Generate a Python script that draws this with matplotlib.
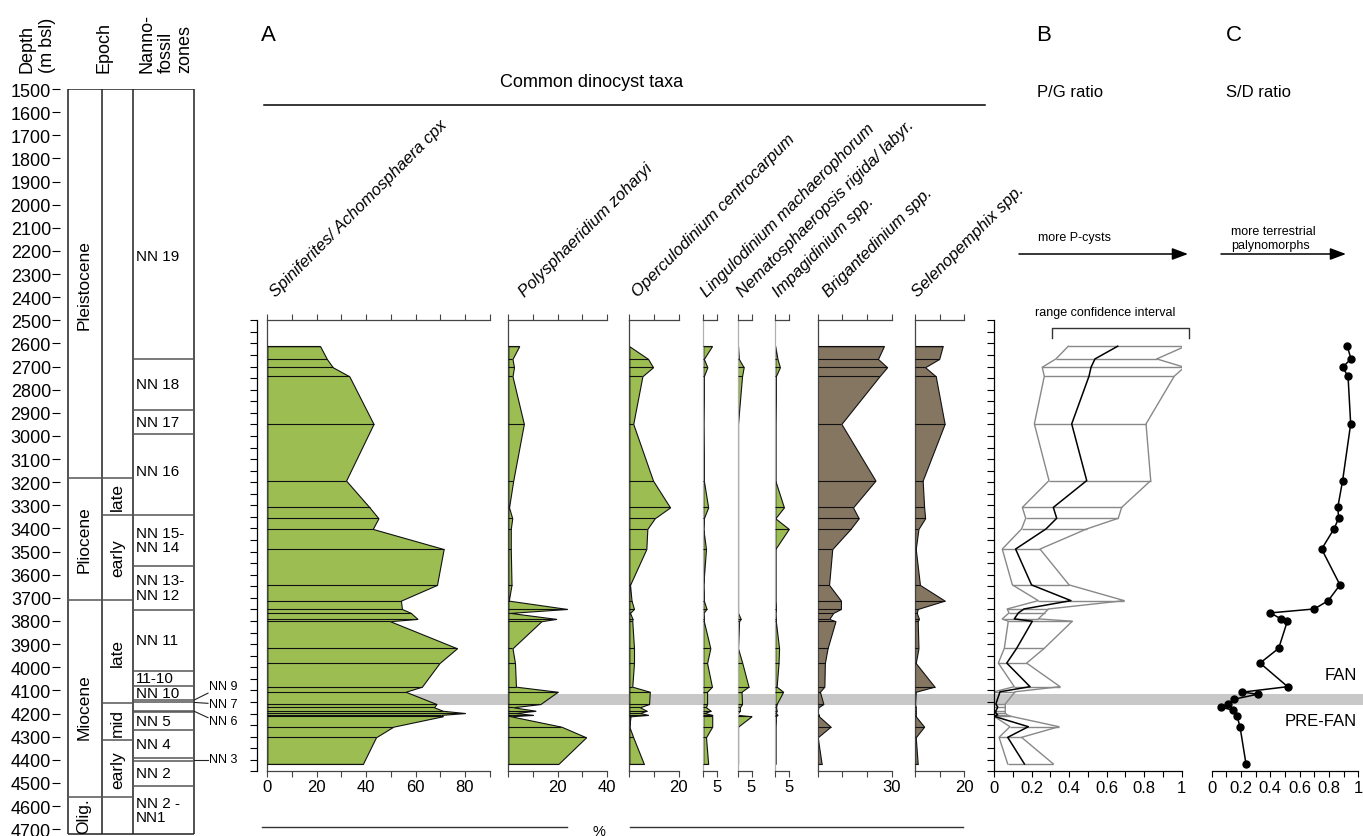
import numpy as np
import matplotlib
matplotlib.use("Agg")
import matplotlib.pyplot as plt

plt.rcParams['font.family'] = ['Liberation Sans', 'DejaVu Sans']

# ---------------- data ----------------
# sample depths (m bsl)
depth = [2612, 2667, 2703, 2742, 2948, 3193, 3309, 3356, 3402, 3489,
         3644, 3712, 3748, 3765, 3791, 3801, 3918, 3982, 4084, 4106,
         4159, 4173, 4188, 4198, 4206, 4212, 4257, 4303, 4418]

# relative abundances (%)
spiniferites = [21.4, 24.1, 26.5, 33.2, 43.0, 31.9, 41.4, 45.0, 42.7, 71.4,
                68.7, 54.1, 54.5, 58.1, 60.8, 49.7, 76.8, 69.7, 62.6, 56.0,
                68.5, 67.5, 71.0, 80.0, 70.5, 71.0, 51.0, 44.0, 38.7]
polysphaeridium = [4.4, 1.7, 2.3, 1.7, 6.3, 2.0, 0.3, 1.6, 1.0, 1.0,
                   1.3, 0.2, 23.8, 0.7, 19.4, 13.4, 1.7, 2.7, 3.1, 20.0,
                   13.0, 2.0, 11.0, 3.0, 10.0, 1.0, 21.5, 31.5, 20.3]
operculodinium = [0.0, 7.6, 9.6, 5.3, 1.6, 9.6, 16.5, 10.3, 7.3, 6.9,
                  0.3, 0.9, 1.9, 0.3, 1.3, 1.2, 1.9, 1.9, 1.2, 8.3,
                  8.0, 4.3, 7.0, 4.3, 7.6, 0.5, 0.0, 1.6, 5.9]
lingulodinium = [3.2, 0.2, 1.5, 0.2, 0.0, 0.2, 1.8, 0.2, 0.0, 1.0,
                 0.0, 0.2, 1.2, 0.0, 0.2, 0.2, 2.6, 1.4, 3.2, 1.4,
                 1.4, 1.0, 2.7, 0.5, 3.3, 3.3, 3.3, 1.0, 1.8]
nematosphaeropsis = [0.0, 0.3, 2.1, 1.5, 0.0, 0.0, 0.0, 0.0, 0.0, 0.0,
                     0.0, 0.0, 0.0, 0.0, 1.0, 0.4, 0.0, 1.6, 3.9, 1.3,
                     1.5, 0.7, 0.7, 0.0, 0.0, 5.0, 0.0, 0.0, 0.0]
impagidinium = [0.0, 0.8, 1.7, 0.2, 0.0, 0.0, 3.2, 0.0, 5.0, 0.0,
                0.0, 0.0, 0.2, 0.0, 0.1, 0.2, 1.4, 1.2, 0.5, 2.9,
                0.5, 0.3, 0.5, 0.2, 0.8, 0.2, 0.0, 0.0, 0.0]
brigantedinium = [26.8, 24.4, 28.1, 25.0, 9.6, 23.4, 14.3, 16.6, 13.3, 5.9,
                  4.6, 9.4, 9.4, 6.3, 4.7, 7.2, 4.0, 2.9, 2.7, 0.9,
                  2.3, 0.3, 0.0, 0.0, 0.5, 0.5, 5.2, 0.0, 1.6]
selenopemphix = [11.2, 9.8, 4.1, 8.4, 12.0, 3.1, 3.7, 4.1, 1.4, 0.3,
                 2.0, 12.0, 1.1, 0.7, 1.6, 1.1, 1.4, 0.3, 7.9, 0.3,
                 0.0, 0.3, 0.3, 0.3, 0.3, 0.3, 3.7, 0.3, 1.1]

taxa_names = ['Spiniferites/ Achomosphaera cpx', 'Polysphaeridium zoharyi',
              'Operculodinium centrocarpum', 'Lingulodinium machaerophorum',
              'Nematosphaeropsis rigida/ labyr.', 'Impagidinium spp.',
              'Brigantedinium spp.', 'Selenopemphix spp.']
taxa_values = [spiniferites, polysphaeridium, operculodinium, lingulodinium,
               nematosphaeropsis, impagidinium, brigantedinium, selenopemphix]
taxa_max = [90, 40, 20, 5, 5, 5, 30, 20]
taxa_ticks = [list(range(0, 91, 10)), [0, 10, 20, 30, 40], [0, 10, 20],
              [0, 5], [0, 5], [0, 5], [0, 10, 20, 30], [0, 10, 20]]
taxa_ticklabels = [['0', '', '20', '', '40', '', '60', '', '80', ''],
                   ['', '', '20', '', '40'], ['', '', '20'],
                   ['', '5'], ['', '5'], ['', '5'],
                   ['', '', '', '30'], ['', '', '20']]
# fill colour: G = gonyaulacoid (green), P = protoperidinioid (brown)
taxa_group = ['G', 'G', 'G', 'G', 'G', 'G', 'P', 'P']

# P/G ratio with confidence interval
pg_low = [0.396, 0.33, 0.257, 0.268, 0.215, 0.293, 0.151, 0.169, 0.147, 0.044,
          0.098, 0.236, 0.07, 0.08, 0.044, 0.076, 0.055, 0.023, 0.108, 0.0,
          0.0, 0.0, 0.0, 0.0, 0.0, 0.0, 0.085, 0.027, 0.073]
pg_mean = [0.659, 0.538, 0.517, 0.506, 0.414, 0.494, 0.316, 0.334, 0.277, 0.115,
           0.20, 0.41, 0.16, 0.13, 0.108, 0.204, 0.121, 0.068, 0.192, 0.032,
           0.01, 0.02, 0.01, 0.01, 0.02, 0.0, 0.183, 0.073, 0.162]
pg_up = [1.02, 0.867, 1.014, 0.96, 0.81, 0.835, 0.68, 0.662, 0.494, 0.245,
         0.40, 0.694, 0.29, 0.27, 0.236, 0.417, 0.268, 0.174, 0.352, 0.112,
         0.06, 0.06, 0.06, 0.06, 0.07, 0.09, 0.346, 0.147, 0.316]

# S/D ratio
sd_depth = [2612, 2667, 2703, 2742, 2948, 3193, 3309, 3356, 3402, 3489,
            3644, 3712, 3748, 3765, 3791, 3801, 3918, 3982, 4084, 4108,
            4116, 4138, 4158, 4172, 4186, 4212, 4257, 4418]
sd_ratio = [0.925, 0.95, 0.893, 0.93, 0.948, 0.893, 0.86, 0.866, 0.834, 0.75,
            0.875, 0.795, 0.70, 0.40, 0.473, 0.516, 0.457, 0.33, 0.518, 0.205,
            0.318, 0.154, 0.113, 0.061, 0.147, 0.173, 0.193, 0.234]

# stratigraphy
epoch_names = ['Pleistocene', 'Pliocene', 'Miocene', 'Olig.']
epoch_tops = [1500, 3183, 3708, 4562]
epoch_bases = [3183, 3708, 4562, 4720]
subepoch_names = ['late', 'early', 'late', 'mid', 'early']
subepoch_tops = [3183, 3340, 3708, 4156, 4315]
subepoch_bases = [3340, 3708, 4156, 4315, 4562]
nn_bounds = [2667, 2886, 2992, 3340, 3561, 3751, 4015, 4080, 4142, 4149,
             4188, 4195, 4271, 4394, 4404, 4515]
nn_labels = ['NN 19', 'NN 18', 'NN 17', 'NN 16', 'NN 15-\nNN 14', 'NN 13-\nNN 12',
             'NN 11', '11-10', 'NN 10', 'NN 5', 'NN 4', 'NN 2', 'NN 2 -\nNN1']
nn_label_depth = [2220, 2776, 2939, 3150, 3450, 3656, 3883, 4047, 4111, 4233,
                  4330, 4458, 4617]
nn_side_labels = ['NN 9', 'NN 7', 'NN 6', 'NN 3']
nn_side_from = [4142, 4152, 4190, 4399]
nn_side_to = [4112, 4156, 4218, 4399]
nn_side_text = [4082, 4158, 4232, 4397]

fan_top, fan_base = 4115, 4162

# ---------------- layout helpers ----------------
W, H = 1363, 837
TOP_PX, PX_PER_M = 90.0, 0.2313
D_TOP, D_BOT = 2500, 4450
GREEN, BROWN = '#9bbd52', '#857662'


def ypx(d):
    return TOP_PX + (d - 1500) * PX_PER_M


fig = plt.figure(figsize=(W / 100, H / 100), dpi=100)


def add_ax(x0, x1, y0, y1):
    ax = fig.add_axes([x0 / W, 1 - y1 / H, (x1 - x0) / W, (y1 - y0) / H])
    ax.set_facecolor('none')
    return ax


# FAN / PRE-FAN boundary band
band = add_ax(268, W, ypx(D_TOP), ypx(D_BOT))
band.set_zorder(-1)
band.set_ylim(D_BOT, D_TOP)
band.axhspan(fan_top, fan_base, color='#c8c8c8', lw=0)
band.axis('off')

# ---------------- stratigraphic column ----------------
col_bot = 1500 + (H - TOP_PX) / PX_PER_M
ax_s = add_ax(0, 250, TOP_PX, H)
ax_s.set_xlim(0, 250)
ax_s.set_ylim(col_bot, 1500)
for sp in ax_s.spines.values():
    sp.set_visible(False)
ax_s.spines['left'].set_position(('data', 60))
ax_s.set_xticks([])
ax_s.set_yticks(range(1500, 4701, 100))
ax_s.tick_params(axis='y', length=6, width=0.8, direction='out', labelsize=13, pad=0.5)

X_L, X_E, X_S, X_R = 68, 102, 133, 194
ax_s.vlines([X_L, X_E, X_S, X_R], 1500, 4720, color='#222222', lw=1.1)
ax_s.hlines([1500, 4720], X_L, X_R, color='#222222', lw=1.1)
ax_s.hlines(epoch_tops[1:], X_L, X_E, color='#555555', lw=1.1)
ax_s.hlines(subepoch_tops + [subepoch_bases[-1]], X_E, X_S, color='#555555', lw=1.1)
ax_s.hlines(nn_bounds, X_S, X_R, color='#555555', lw=1.1)

for name, t, b in zip(epoch_names, epoch_tops, epoch_bases):
    yc = (t + b) / 2 if name != 'Miocene' else 4170
    ax_s.text(84, yc, name, rotation=90, ha='center', va='center', fontsize=12.5)
for name, t, b in zip(subepoch_names, subepoch_tops, subepoch_bases):
    ax_s.text(117.5, (t + b) / 2, name, rotation=90, ha='center', va='center', fontsize=12.5)
for name, d in zip(nn_labels, nn_label_depth):
    ax_s.text(136, d, name, ha='left', va='center', fontsize=11, linespacing=1.05)
for name, d0, d1, dt in zip(nn_side_labels, nn_side_from, nn_side_to, nn_side_text):
    ax_s.plot([X_R, 208], [d0, d1], color='#222222', lw=0.8, clip_on=False)
    ax_s.text(209, dt, name, ha='left', va='center', fontsize=9, clip_on=False)

# ---------------- overlay for free text ----------------
ov = add_ax(0, W, 0, H)
ov.set_xlim(0, W)
ov.set_ylim(H, 0)
ov.axis('off')
ov.set_zorder(5)

ov.text(37, 73, 'Depth\n(m bsl)', rotation=90, ha='center', va='bottom', fontsize=13,
        multialignment='left', linespacing=1.25)
ov.text(104, 73, 'Epoch', rotation=90, ha='center', va='bottom', fontsize=13)
ov.text(166, 73, 'Nanno-\nfossil\nzones', rotation=90, ha='center', va='bottom', fontsize=13,
        multialignment='left', linespacing=1.12)

ov.text(261, 35, 'A', fontsize=16, ha='left', va='center')
ov.text(1036, 35, 'B', fontsize=16, ha='left', va='center')
ov.text(1226, 35, 'C', fontsize=16, ha='left', va='center')
ov.text(592, 82, 'Common dinocyst taxa', fontsize=13, ha='center', va='center')
ov.plot([264, 985], [106, 106], color='k', lw=1.1)
ov.text(1070, 92, 'P/G ratio', fontsize=12, ha='center', va='center')
ov.text(1258, 92, 'S/D ratio', fontsize=12, ha='center', va='center')

ov.text(1075, 238, 'more P-cysts', fontsize=9, ha='center', va='center')
ov.annotate('', xy=(1188, 255), xytext=(1019, 255),
            arrowprops=dict(arrowstyle='-|>,head_length=0.8,head_width=0.3',
                            mutation_scale=12, color='k', lw=1.1, shrinkA=0, shrinkB=0))
ov.text(1231, 239, 'more terrestrial\npalynomorphs', fontsize=9, ha='left', va='center',
        linespacing=1.3)
ov.annotate('', xy=(1346, 255), xytext=(1221, 255),
            arrowprops=dict(arrowstyle='-|>,head_length=0.8,head_width=0.3',
                            mutation_scale=12, color='k', lw=1.1, shrinkA=0, shrinkB=0))

ov.text(1105, 313, 'range confidence interval', fontsize=9, ha='center', va='center')
ov.plot([1052, 1052, 1189, 1189], [339, 329, 329, 339], color='#333333', lw=1)

ov.text(1357, 675, 'FAN', fontsize=12, ha='right', va='center')
ov.text(1357, 722, 'PRE-FAN', fontsize=12, ha='right', va='center')

ov.plot([262, 567], [828, 828], color='#333333', lw=1)
ov.plot([630, 963], [828, 828], color='#333333', lw=1)
ov.text(599, 832, '%', fontsize=10.5, ha='center', va='center')

# ---------------- depth axis of panel A ----------------
ax_d = add_ax(257, 258, ypx(D_TOP), ypx(D_BOT))
ax_d.set_ylim(D_BOT, D_TOP)
for k, sp in ax_d.spines.items():
    sp.set_visible(k == 'left')
ax_d.spines['left'].set_linewidth(0.9)
ax_d.set_xticks([])
ax_d.set_yticks(np.arange(D_TOP, D_BOT + 1, 50))
ax_d.tick_params(axis='y', length=5, width=0.8, direction='out', labelleft=False)

# ---------------- taxa panels ----------------
PX_PER_PCT = 2.47
taxa_x0 = [267.3, 508.3, 629.3, 703.3, 738.0, 775.3, 817.7, 915.0]
taxa_label_x = [276, 525, 638, 707, 743, 779, 829, 918]

for name, vals, xmax, ticks, tlabels, grp, x0, lx in zip(
        taxa_names, taxa_values, taxa_max, taxa_ticks, taxa_ticklabels,
        taxa_group, taxa_x0, taxa_label_x):
    width = xmax * PX_PER_PCT if xmax > 5 else 13.5
    ax = add_ax(x0, x0 + width, ypx(D_TOP), ypx(D_BOT))
    ax.set_xlim(0, xmax)
    ax.set_ylim(D_BOT, D_TOP)
    fill = GREEN if grp == 'G' else BROWN
    ax.fill_betweenx(depth, 0, vals, facecolor=fill, edgecolor='#111111', lw=0.8, zorder=2)
    ax.hlines(depth, 0, vals, colors='#111111', lw=0.8, zorder=3)
    ax.spines['right'].set_visible(False)
    for k in ('left', 'top', 'bottom'):
        ax.spines[k].set_linewidth(0.9)
        ax.spines[k].set_color('#444444')
    if xmax <= 5:
        ax.spines['left'].set_color('#b0b0b0')
    ax.set_yticks([])
    ax.set_xticks(ticks)
    ax.set_xticklabels(tlabels)
    ax.tick_params(axis='x', top=True, bottom=True, direction='out', length=4,
                   width=0.8, color='#444444', labelsize=12, pad=1.5)
    ov.text(lx, 298, name, rotation=45, rotation_mode='anchor', ha='left', va='baseline',
            fontsize=12, style='italic')

# ---------------- P/G ratio ----------------
ax_pg = add_ax(994, 1181.7, ypx(D_TOP), ypx(D_BOT))
ax_pg.set_xlim(0, 1)
ax_pg.set_ylim(D_BOT, D_TOP)
ax_pg.hlines(depth, pg_low, pg_up, colors='#888888', lw=1)
ax_pg.plot(pg_low, depth, color='#888888', lw=1)
ax_pg.plot(pg_up, depth, color='#888888', lw=1)
ax_pg.plot(pg_mean, depth, color='black', lw=1.1)
ax_pg.spines['right'].set_visible(False)
ax_pg.spines['top'].set_visible(False)
for k in ('left', 'bottom'):
    ax_pg.spines[k].set_linewidth(0.9)
ax_pg.set_yticks(np.arange(D_TOP, D_BOT + 1, 50))
ax_pg.tick_params(axis='y', length=5, width=0.8, direction='out', labelleft=False)
ax_pg.set_xticks(np.round(np.arange(0, 1.01, 0.1), 1))
ax_pg.set_xticklabels(['0', '', '0.2', '', '0.4', '', '0.6', '', '0.8', '', '1'])
ax_pg.tick_params(axis='x', length=4.5, width=0.8, direction='out', labelsize=12, pad=1.5)

# ---------------- S/D ratio ----------------
ax_sd = add_ax(1211.7, 1358.3, ypx(D_TOP), ypx(D_BOT))
ax_sd.set_xlim(0, 1)
ax_sd.set_ylim(D_BOT, D_TOP)
ax_sd.plot(sd_ratio, sd_depth, color='black', lw=1.1, marker='o', ms=5, zorder=3,
           clip_on=False)
for k in ('left', 'right', 'top'):
    ax_sd.spines[k].set_visible(False)
ax_sd.spines['bottom'].set_linewidth(0.9)
ax_sd.set_yticks([])
ax_sd.set_xticks(np.round(np.arange(0, 1.01, 0.1), 1))
ax_sd.set_xticklabels(['0', '', '0.2', '', '0.4', '', '0.6', '', '0.8', '', '1'])
ax_sd.tick_params(axis='x', length=4.5, width=0.8, direction='out', labelsize=12, pad=1.5)

fig.savefig('out.png', dpi=100)
